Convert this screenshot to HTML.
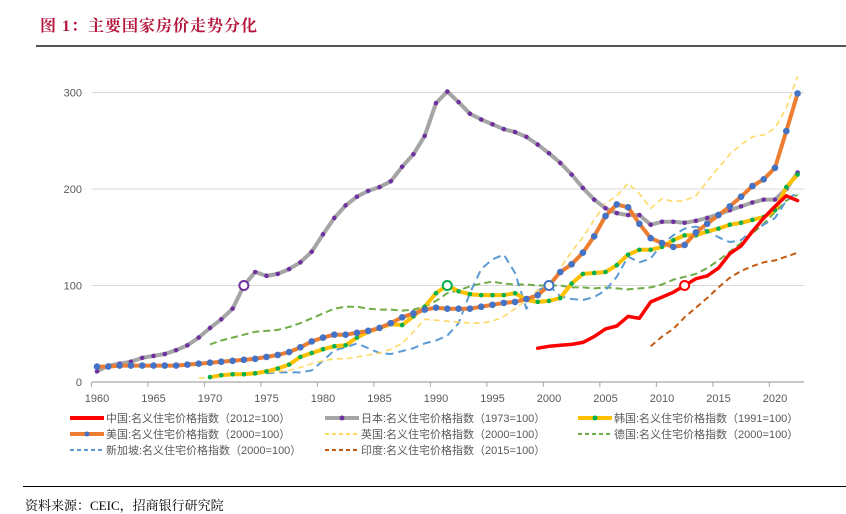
<!DOCTYPE html>
<html><head><meta charset="utf-8">
<style>
body{margin:0;width:846px;height:509px;background:#fff;overflow:hidden;position:relative;font-family:"Liberation Sans","Noto Sans CJK SC",sans-serif;}
#title{position:absolute;left:40px;top:13px;font-size:16px;font-weight:bold;color:#B5163C;letter-spacing:1px;font-family:"Liberation Serif","Noto Serif CJK SC",serif;}
#topline{position:absolute;left:36px;top:45px;width:810px;height:2px;background:#555;}
#botline{position:absolute;left:23px;top:486px;width:823px;height:1px;background:#000;}
#source{position:absolute;left:25px;top:495px;font-size:13px;color:#000;font-family:"Liberation Serif","Noto Serif CJK SC",serif;}
svg{position:absolute;left:0;top:0;}
</style></head><body>
<div id="title">图 1：主要国家房价走势分化</div>
<div id="topline"></div>
<svg id="chart" width="846" height="509"></svg>
<div id="botline"></div>
<div id="source">资料来源：CEIC，招商银行研究院</div>
<script>
const yTicks=[0,100,200,300];
const xTicks=[1960,1965,1970,1975,1980,1985,1990,1995,2000,2005,2010,2015,2020];
const chinaStart=1999;
const chinaVals=[35,37,38,39,41,47,55,58,68,66,83,88,93,100,107,110,118,133,141,156,170,182,193,188];
const japanStart=1960;
const japanVals=[11,17,19,21,25,27,29,33,38,46,56,65,76,100,114,110,112,117,124,135,153,170,183,192,198,202,208,223,236,255,289,301,290,278,272,267,262,259,254,246,237,227,215,201,189,180,175,173,173,163,166,166,165,167,170,174,178,182,186,189,189,200,217];
const koreaStart=1970;
const koreaVals=[5,7,8,8,9,11,14,18,26,30,34,37,38,46,52,56,60,59,68,78,92,100,94,91,90,90,90,92,85,83,84,87,102,112,113,114,121,132,137,137,140,147,152,152,156,159,163,165,168,171,178,202,215];
const usStart=1960;
const usVals=[16,16,17,17,17,17,17,17,18,19,20,21,22,23,24,26,28,31,36,42,46,49,49,51,53,56,61,67,71,75,77,76,76,76,78,80,82,83,86,90,100,114,122,134,151,172,184,181,164,149,144,140,142,155,164,173,182,192,203,210,222,260,299];
const ukStart=1969;
const ukVals=[4,5,6,8,9,10,10,11,12,15,19,22,24,24,26,28,30,34,40,52,65,64,63,62,61,61,63,68,76,85,95,100,118,135,150,168,185,193,206,195,180,190,187,188,193,208,222,236,246,254,256,263,284,317];
const deStart=1970;
const deVals=[39,43,46,49,52,53,54,57,61,66,71,76,78,78,76,75,75,74,75,78,84,92,95,99,102,104,102,101,101,100,100,100,98,98,97,98,97,96,97,98,101,106,109,112,118,126,135,144,154,164,176,188,194];
const sgStart=1975;
const sgVals=[9,10,10,10,12,22,33,36,40,35,30,29,32,35,40,43,48,61,92,117,127,132,113,76,95,100,89,86,85,88,95,109,130,124,128,143,152,159,161,157,150,145,147,157,163,170,188,197];
const inStart=2009;
const inVals=[37,47,55,67,77,87,98,108,115,120,124,126,130,134];

const NS='http://www.w3.org/2000/svg';
const svg=document.getElementById('chart');
const X0=97,XS=11.3,Y0=382,YS=0.965;
function xs(yr){return X0+(yr-1960)*XS;}
function ys(v){return Y0-v*YS;}
function mk(tag,attrs,parent){const e=document.createElementNS(NS,tag);for(const k in attrs)e.setAttribute(k,attrs[k]);(parent||svg).appendChild(e);return e;}

yTicks.forEach(t=>{
  if(t>0){const g=mk('line',{x1:92,x2:804,y1:ys(t),y2:ys(t),stroke:'#d9d9d9','stroke-width':1});
  
  }
  const tx=mk('text',{x:82,y:ys(t)+4,'text-anchor':'end','font-size':11,fill:'#595959'});
  tx.textContent=t;
  
  
});
const ax=mk('line',{x1:92,x2:804,y1:Y0,y2:Y0,stroke:'#a6a6a6','stroke-width':1.2});


xTicks.forEach(t=>{
  const tk=mk('line',{x1:xs(t)-XS/2,x2:xs(t)-XS/2,y1:Y0,y2:Y0+5,stroke:'#a6a6a6'});
  
  
  const tx=mk('text',{x:xs(t),y:Y0+20,'text-anchor':'middle','font-size':11,fill:'#595959'});
  tx.textContent=t;
  
  
});

function pts(start,vals){return vals.map((v,i)=>xs(start+i).toFixed(1)+','+ys(v).toFixed(1)).join(' ');}
function line(name,start,vals,color,w,dash){
  const p=mk('polyline',{points:pts(start,vals),fill:'none',stroke:color,'stroke-width':w,'stroke-linejoin':'round','stroke-linecap':dash?'butt':'round'});
  if(dash)p.setAttribute('stroke-dasharray',dash);
  
  
}
function dots(name,start,vals,color,r,baseYear,hollowColor){
  vals.forEach((v,i)=>{
    const yr=start+i;
    if(yr===baseYear){
      const c=mk('circle',{cx:xs(yr),cy:ys(v),r:4.5,fill:'#fff',stroke:hollowColor,'stroke-width':2});
      
      
    }else if(color){
      const c=mk('circle',{cx:xs(yr),cy:ys(v),r:r,fill:color});
      
      
    }
  });
}
line('india-line',inStart,inVals,'#C55A11',2,'6,4');
line('germany-line',deStart,deVals,'#70AD47',2,'7,4');
line('singapore-line',sgStart,sgVals,'#5B9BD5',2,'8,5');
line('uk-line',ukStart,ukVals,'#FFD966',1.6,'6,4');
line('japan-line',japanStart,japanVals,'#A5A5A5',4);
dots('japan',japanStart,japanVals,'#7030A0',2.3,1973,'#7030A0');
line('korea-line',koreaStart,koreaVals,'#FFC000',4);
dots('korea',koreaStart,koreaVals,'#00B050',2.3,1991,'#00B050');
line('us-line',usStart,usVals,'#ED7D31',4);
dots('us',usStart,usVals,'#4472C4',3.3,2000,'#4472C4');
line('china-line',chinaStart,chinaVals,'#FF0000',3.5);
dots('china',chinaStart,chinaVals,null,0,2012,'#FF0000');

const legNames=['中国:名义住宅价格指数（2012=100）','日本:名义住宅价格指数（1973=100）','韩国:名义住宅价格指数（1991=100）','美国:名义住宅价格指数（2000=100）','英国:名义住宅价格指数（2000=100）','德国:名义住宅价格指数（2000=100）','新加坡:名义住宅价格指数（2000=100）','印度:名义住宅价格指数（2015=100）'];
const legStyle=[['#FF0000',4,null,null],['#A5A5A5',4,null,'#7030A0'],['#FFC000',4,null,'#00B050'],['#ED7D31',4,null,'#4472C4'],['#FFD966',2,'4,3',null],['#70AD47',2,'4,3',null],['#5B9BD5',2,'4,3',null],['#C55A11',2,'4,3',null]];
const colX=[70,325,578],rowY=[418,434,450];
legNames.forEach((n,i)=>{
  const x=colX[i%3],y=rowY[Math.floor(i/3)];
  const g=mk('g',{});
  
  
  const s=legStyle[i];
  const l=mk('line',{x1:x,x2:x+34,y1:y,y2:y,stroke:s[0],'stroke-width':s[1]},g);
  if(s[2])l.setAttribute('stroke-dasharray',s[2]);
  if(s[3])mk('circle',{cx:x+17,cy:y,r:2.5,fill:s[3]},g);
  const t=mk('text',{x:x+36,y:y+4,'font-size':11,fill:'#595959'},g);
  t.textContent=n;
});
</script>
</body></html>
